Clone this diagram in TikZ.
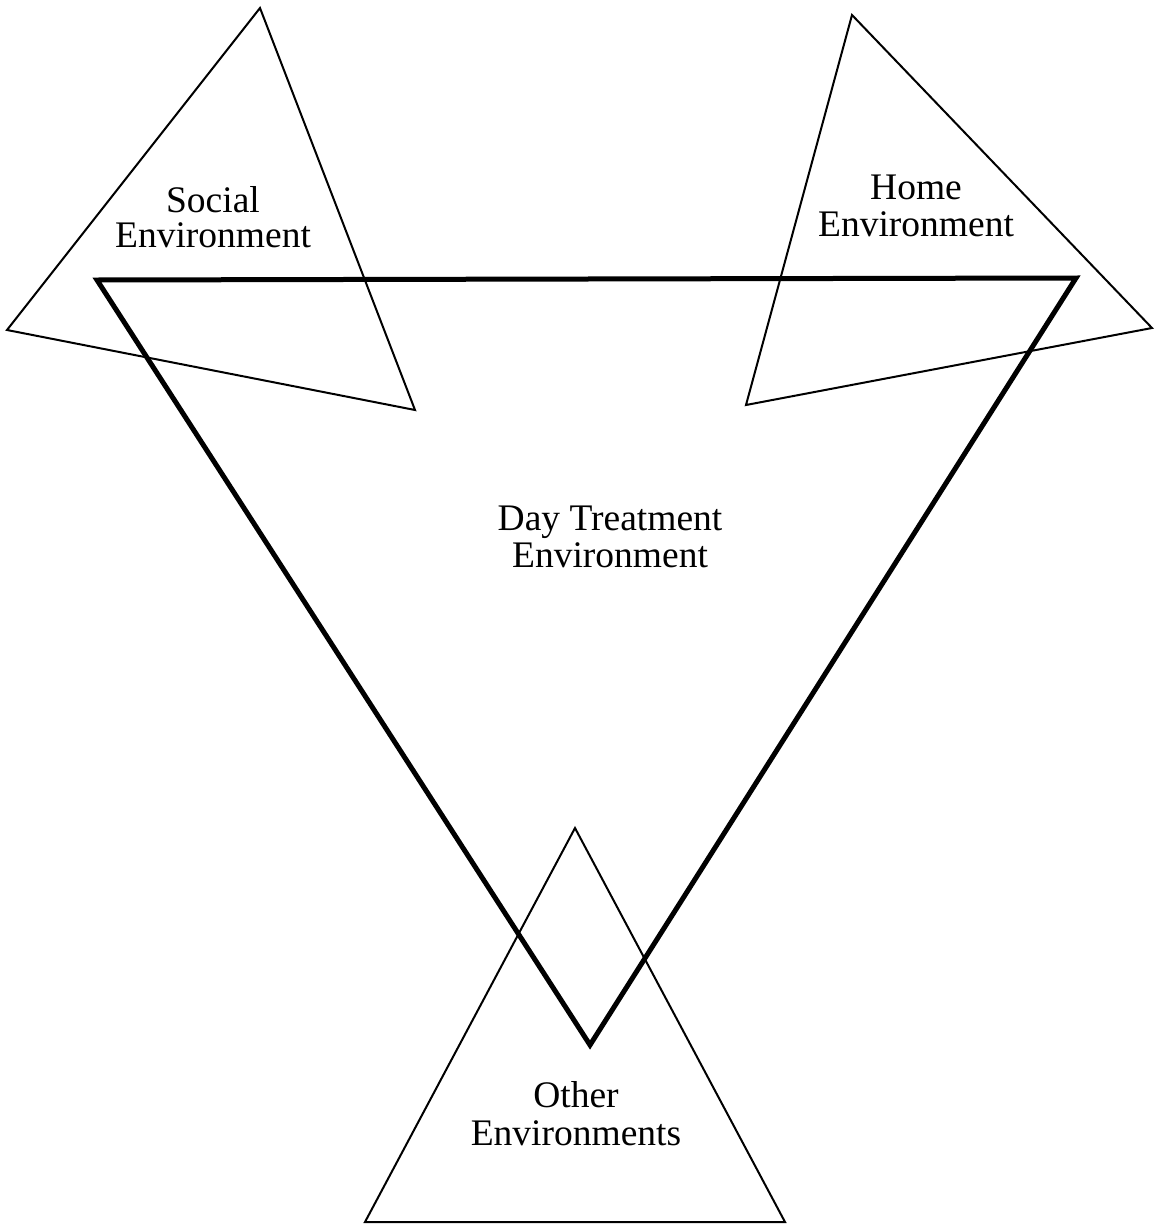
\documentclass[tikz,border=0pt]{standalone}
\usepackage{fontspec}
\setmainfont{Liberation Serif}
\begin{document}
\begin{tikzpicture}[x=1pt,y=-1pt,
  thin tri/.style={draw=black,line width=2pt,line join=miter},
  thick tri/.style={draw=black,line width=5pt,line join=miter},
  lbl/.style={anchor=base,inner sep=0pt,font=\fontsize{37.5}{38}\selectfont}]
\useasboundingbox (0,0) rectangle (1160,1226);
% Social environment
\draw[thin tri] (260,8) -- (7,330) -- (415,410) -- cycle;
% Home environment
\draw[thin tri] (852,15) -- (1152,328) -- (746,405) -- cycle;
% Day treatment environment
\draw[thick tri] (97,280) -- (1076,278) -- (590,1045) -- cycle;
% Other environments
\draw[thin tri] (575,828) -- (785,1222) -- (365,1222) -- cycle;
\node[lbl] (soc1) at (213,212) {Social};
\node[lbl] (soc2) at (213,247) {Environment};
\node[lbl] (home1) at (916,199) {Home};
\node[lbl] (home2) at (916,236) {Environment};
\node[lbl] (day1) at (610,530) {Day Treatment};
\node[lbl] (day2) at (610,567) {Environment};
\node[lbl] (oth1) at (576,1107) {Other};
\node[lbl] (oth2) at (576,1145) {Environments};
\end{tikzpicture}
\end{document}
